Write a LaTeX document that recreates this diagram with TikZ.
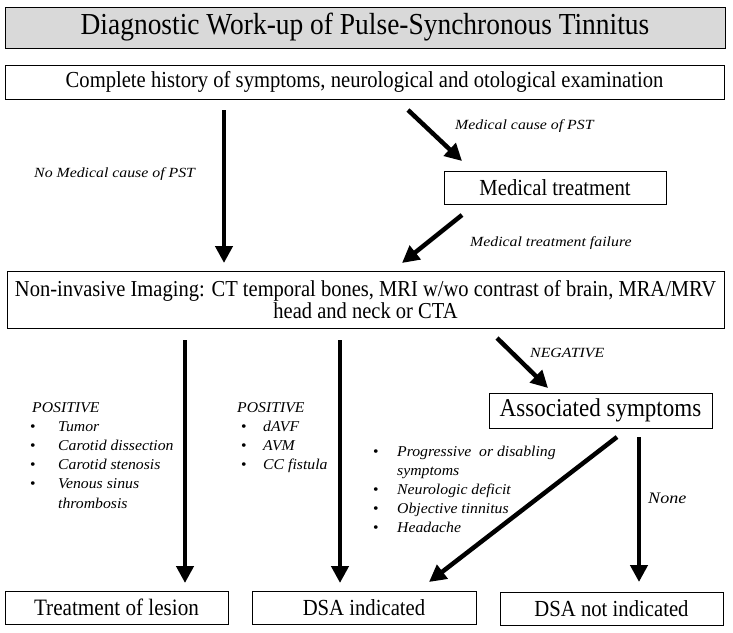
\documentclass[tikz,border=0pt]{standalone}
\usepackage{fontspec}
\setmainfont[FakeStretch=0.9]{Liberation Serif}
\newfontfamily\lblfont[FakeStretch=1.13]{Liberation Serif}
\newfontfamily\lstfont[FakeStretch=1.05]{Liberation Serif}
\usetikzlibrary{arrows.meta}
\tikzset{
  box/.style={draw, line width=0.9pt, inner sep=0pt},
  arr/.style={line width=4.5pt, -{Triangle[width=17pt,length=17pt]}},
  lbl/.style={font=\lblfont\fontsize{14}{16}\selectfont\itshape, anchor=base west, inner sep=0pt},
  lst/.style={font=\lstfont\fontsize{15}{19.2}\selectfont, anchor=base west, inner sep=0pt, align=left},
}
\newcommand{\itm}[2][26pt]{\makebox[#1][l]{\upshape\textbullet}\textit{#2}}
\begin{document}
\begin{tikzpicture}[x=1pt,y=-1pt]
\useasboundingbox (0,0) rectangle (733,632);
% boxes
\draw[box, fill=black!15] (5,7) rectangle (725,48);
\node (title) at (365,27.5) {\fontsize{30.5}{34}\selectfont Diagnostic Work-up of Pulse-Synchronous Tinnitus};
\draw[box] (5,65) rectangle (724,99);
\node (hist) at (364.5,82) {\fontsize{22.9}{26}\selectfont Complete history of symptoms, neurological and otological examination};
\draw[box] (444,171) rectangle (666,204);
\node (med) at (555,187.5) {\fontsize{23}{26}\selectfont Medical treatment};
\draw[box] (7,271) rectangle (724,328);
\node[align=center, font=\fontsize{22.8}{22}\selectfont] (img) at (365.5,299.5) {Non-invasive Imaging: CT temporal bones, MRI w/wo contrast of brain, MRA/MRV\\head and neck or CTA};
\draw[box] (489,393) rectangle (712,428);
\node (assoc) at (600.5,410.5) {\fontsize{25.6}{28}\selectfont Associated symptoms};
\draw[box] (5,591) rectangle (228,624);
\node (treat) at (116.5,607.5) {\fontsize{23.5}{26}\selectfont Treatment of lesion};
\draw[box] (252,591) rectangle (476,624);
\node (dsa) at (364,607.5) {\fontsize{23}{26}\selectfont DSA indicated};
\draw[box] (500,592) rectangle (723,625);
\node (nodsa) at (611.5,608.5) {\fontsize{23}{26}\selectfont DSA not indicated};
% arrow coordinates
\coordinate (a1s) at (224,110); \coordinate (a1e) at (224,263);
\coordinate (a2s) at (408,110); \coordinate (a2e) at (462,161);
\coordinate (a3s) at (462,215); \coordinate (a3e) at (402,263);
\coordinate (a4s) at (185,340); \coordinate (a4e) at (185,583);
\coordinate (a5s) at (340,340); \coordinate (a5e) at (340,583);
\coordinate (a6s) at (497,338); \coordinate (a6e) at (548,388);
\coordinate (a7s) at (617,437); \coordinate (a7e) at (429,582);
\coordinate (a8s) at (639,437); \coordinate (a8e) at (639,582);
\draw[arr] (a1s) -- (a1e);
\draw[arr] (a2s) -- (a2e);
\draw[arr] (a3s) -- (a3e);
\draw[arr] (a4s) -- (a4e);
\draw[arr] (a5s) -- (a5e);
\draw[arr] (a6s) -- (a6e);
\draw[arr] (a7s) -- (a7e);
\draw[arr] (a8s) -- (a8e);
% labels
\node[lbl] (l1) at (455,129) {Medical cause of PST};
\node[lbl] (l2) at (34,177) {No Medical cause of PST};
\node[lbl] (l3) at (470,246) {Medical treatment failure};
\node[lbl] (l4) at (530,357) {NEGATIVE};
\node[lbl, font=\lblfont\fontsize{16}{18}\selectfont\itshape] (l5) at (648,503) {None};
% lists (base anchor = baseline of last line)
\node[lst] (p1) at (32,508) {\textit{POSITIVE}\\ \hspace*{-2pt}\itm[28pt]{Tumor}\\ \hspace*{-2pt}\itm[28pt]{Carotid dissection}\\ \hspace*{-2pt}\itm[28pt]{Carotid stenosis}\\ \hspace*{-2pt}\itm[28pt]{Venous sinus}\\ \hspace*{26pt}\textit{thrombosis}};
\node[lst] (p2) at (237,469.6) {\textit{POSITIVE}\\ \hspace*{4pt}\itm[22pt]{dAVF}\\ \hspace*{4pt}\itm[22pt]{AVM}\\ \hspace*{4pt}\itm[22pt]{CC fistula}};
\node[lst] (p3) at (373,532.8) {\itm[24pt]{Progressive\ \ or disabling}\\ \hspace*{24pt}\textit{symptoms}\\ \itm[24pt]{Neurologic deficit}\\ \itm[24pt]{Objective tinnitus}\\ \itm[24pt]{Headache}};
\end{tikzpicture}
\end{document}
